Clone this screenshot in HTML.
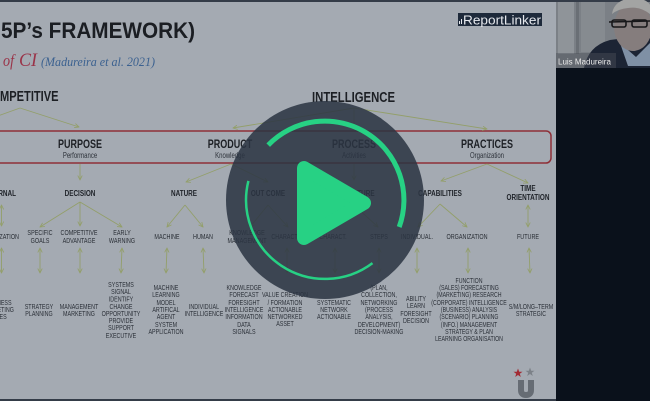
<!DOCTYPE html>
<html><head><meta charset="utf-8">
<style>
html,body{margin:0;padding:0;background:#0a111b;}
svg{display:block;}
.sans{font-family:"Liberation Sans",Arial,sans-serif;}
.s text{font-size:6.9px;text-anchor:middle;fill:#2c3139;font-family:"Liberation Sans",Arial,sans-serif;}
.r3 text{font-size:7px;text-anchor:middle;fill:#2a2f36;font-family:"Liberation Sans",Arial,sans-serif;}
.h2 text{font-size:8.5px;font-weight:bold;text-anchor:middle;fill:#1e2228;font-family:"Liberation Sans",Arial,sans-serif;}
.ln line{stroke:#939f6a;stroke-width:0.9;}
</style></head>
<body>
<svg width="650" height="401" viewBox="0 0 650 401" xmlns="http://www.w3.org/2000/svg">
<defs>
<marker id="a" viewBox="0 0 6 6" refX="5.5" refY="3" markerUnits="userSpaceOnUse" markerWidth="5" markerHeight="5" orient="auto-start-reverse">
<path d="M0,0.3 L5.5,3 L0,5.7" fill="none" stroke="#939f6a" stroke-width="1"/>
</marker>
</defs>
<rect x="0" y="0" width="650" height="401" fill="#0a111b"/>
<!-- slide -->
<rect x="0" y="0" width="556" height="401" fill="#343c48"/>
<rect x="0" y="2" width="556" height="397" fill="#a4aab2"/>

<!-- title -->
<text class="sans" x="1" y="38" font-size="22" font-weight="bold" fill="#1b1e23" textLength="194" lengthAdjust="spacingAndGlyphs">5P’s FRAMEWORK)</text>
<text x="3" y="66" style="font-family:'Liberation Serif','DejaVu Serif',serif;font-style:italic;font-size:17px;" fill="#9a3348" textLength="11" lengthAdjust="spacingAndGlyphs">of</text>
<text x="19" y="66" style="font-family:'Liberation Serif','DejaVu Serif',serif;font-style:italic;font-size:19px;" fill="#9a3348" textLength="18" lengthAdjust="spacingAndGlyphs">CI</text>
<text x="41" y="66" style="font-family:'Liberation Serif','DejaVu Serif',serif;font-style:italic;font-size:12.5px;" fill="#3b6190" textLength="114" lengthAdjust="spacingAndGlyphs">(Madureira et al. 2021)</text>

<!-- ReportLinker -->
<rect x="458" y="13" width="84" height="13" fill="#1e2a3b"/>
<rect x="459" y="21" width="1" height="3" fill="#e6e9ee"/>
<rect x="461" y="19" width="1" height="5" fill="#e6e9ee"/>
<text class="sans" x="463" y="24.5" font-size="12.5" fill="#e6e9ee" textLength="78" lengthAdjust="spacingAndGlyphs">ReportLinker</text>

<!-- top headings -->
<g transform="translate(0,101) scale(0.74,1)"><text class="sans" x="0" y="0" font-size="15" font-weight="bold" fill="#1c1f24">MPETITIVE</text></g>
<g transform="translate(312,102) scale(0.755,1)"><text class="sans" x="0" y="0" font-size="15" font-weight="bold" fill="#1c1f24">INTELLIGENCE</text></g>

<!-- red band -->
<rect x="-20" y="131" width="571" height="32" rx="5" fill="none" stroke="#8e2f37" stroke-width="1.5"/>
<g class="sans" transform="translate(80,0) scale(0.75,1)"><text y="148" font-size="12" font-weight="bold" text-anchor="middle" fill="#1c1f24">PURPOSE</text><text y="158" font-size="8" text-anchor="middle" fill="#2c3139">Performance</text></g>
<g class="sans" transform="translate(230,0) scale(0.75,1)"><text y="148" font-size="12" font-weight="bold" text-anchor="middle" fill="#1c1f24">PRODUCT</text><text y="158" font-size="8" text-anchor="middle" fill="#2c3139">Knowledge</text></g>
<g class="sans" transform="translate(354,0) scale(0.75,1)"><text y="148" font-size="12" font-weight="bold" text-anchor="middle" fill="#1c1f24">PROCESS</text><text y="158" font-size="8" text-anchor="middle" fill="#2c3139">Activities</text></g>
<g class="sans" transform="translate(487,0) scale(0.75,1)"><text y="148" font-size="12" font-weight="bold" text-anchor="middle" fill="#1c1f24">PRACTICES</text><text y="158" font-size="8" text-anchor="middle" fill="#2c3139">Organization</text></g>

<!-- connectors -->
<g class="ln">
<line x1="20" y1="108" x2="79" y2="127" marker-end="url(#a)"/>
<line x1="20" y1="108" x2="-5" y2="117"/>
<line x1="354" y1="108" x2="233" y2="128" marker-end="url(#a)"/>
<line x1="354" y1="108" x2="487" y2="129" marker-end="url(#a)"/>
<line x1="354" y1="108" x2="354" y2="130" marker-end="url(#a)"/>

<line x1="80" y1="164" x2="80" y2="180" marker-end="url(#a)"/>
<line x1="231" y1="164" x2="186" y2="182" marker-end="url(#a)"/>
<line x1="231" y1="164" x2="268" y2="182" marker-end="url(#a)"/>
<line x1="354" y1="164" x2="354" y2="180" marker-end="url(#a)"/>
<line x1="487" y1="164" x2="441" y2="181" marker-end="url(#a)"/>
<line x1="487" y1="164" x2="528" y2="183" marker-end="url(#a)"/>

<line x1="80" y1="202" x2="40" y2="227" marker-end="url(#a)"/>
<line x1="80" y1="202" x2="80" y2="226" marker-end="url(#a)"/>
<line x1="80" y1="202" x2="122" y2="227" marker-end="url(#a)"/>
<line x1="185" y1="205" x2="167" y2="227" marker-end="url(#a)"/>
<line x1="185" y1="205" x2="203" y2="227" marker-end="url(#a)"/>
<line x1="268" y1="205" x2="250" y2="227" marker-end="url(#a)"/>
<line x1="268" y1="205" x2="288" y2="227" marker-end="url(#a)"/>
<line x1="354" y1="205" x2="333" y2="227" marker-end="url(#a)"/>
<line x1="354" y1="205" x2="378" y2="227" marker-end="url(#a)"/>
<line x1="440" y1="204" x2="418" y2="227" marker-end="url(#a)"/>
<line x1="440" y1="204" x2="467" y2="227" marker-end="url(#a)"/>
<line x1="528" y1="205" x2="528" y2="227" marker-start="url(#a)" marker-end="url(#a)"/>
<line x1="1.5" y1="205" x2="1.5" y2="226" marker-start="url(#a)" marker-end="url(#a)"/>

<line x1="1.5" y1="248" x2="1.5" y2="273" marker-start="url(#a)" marker-end="url(#a)"/>
<line x1="40" y1="248" x2="40" y2="273" marker-start="url(#a)" marker-end="url(#a)"/>
<line x1="80" y1="248" x2="80" y2="273" marker-start="url(#a)" marker-end="url(#a)"/>
<line x1="122" y1="248" x2="121" y2="273" marker-start="url(#a)" marker-end="url(#a)"/>
<line x1="167" y1="248" x2="166" y2="273" marker-start="url(#a)" marker-end="url(#a)"/>
<line x1="203" y1="248" x2="204" y2="273" marker-start="url(#a)" marker-end="url(#a)"/>
<line x1="287" y1="248" x2="287" y2="273" marker-start="url(#a)" marker-end="url(#a)"/>
<line x1="335" y1="248" x2="335" y2="273" marker-start="url(#a)" marker-end="url(#a)"/>
<line x1="379" y1="248" x2="379" y2="273" marker-start="url(#a)" marker-end="url(#a)"/>
<line x1="417" y1="248" x2="417" y2="273" marker-start="url(#a)" marker-end="url(#a)"/>
<line x1="468" y1="248" x2="468" y2="273" marker-start="url(#a)" marker-end="url(#a)"/>
<line x1="529" y1="248" x2="530" y2="273" marker-start="url(#a)" marker-end="url(#a)"/>
</g>

<!-- row 2 headings -->
<g class="h2">
<g transform="translate(16,0) scale(0.75,1)"><text y="196" style="text-anchor:end">INTERNAL</text></g>
<g transform="translate(80,0) scale(0.75,1)"><text y="196">DECISION</text></g>
<g transform="translate(184,0) scale(0.75,1)"><text y="196">NATURE</text></g>
<g transform="translate(268,0) scale(0.75,1)"><text y="196">OUT COME</text></g>
<g transform="translate(355,0) scale(0.75,1)"><text y="196">STRUCTURE</text></g>
<g transform="translate(440,0) scale(0.75,1)"><text y="196">CAPABILITIES</text></g>
<g transform="translate(528,0) scale(0.75,1)"><text y="191" font-weight="normal">TIME</text><text y="200">ORIENTATION</text></g>
</g>

<!-- row 3 -->
<g class="r3">
<g transform="translate(19,0) scale(0.78,1)"><text y="239" style="text-anchor:end">ORGANIZATION</text></g>
<g transform="translate(40,0) scale(0.78,1)"><text y="235">SPECIFIC</text><text y="243">GOALS</text></g>
<g transform="translate(79,0) scale(0.78,1)"><text y="235">COMPETITIVE</text><text y="243">ADVANTAGE</text></g>
<g transform="translate(122,0) scale(0.78,1)"><text y="235">EARLY</text><text y="243">WARNING</text></g>
<g transform="translate(167,0) scale(0.78,1)"><text y="239">MACHINE</text></g>
<g transform="translate(203,0) scale(0.78,1)"><text y="239">HUMAN</text></g>
<g transform="translate(247,0) scale(0.78,1)"><text y="235">KNOWLEDGE</text><text y="243">MANAGEMENT</text></g>
<g transform="translate(285,0) scale(0.78,1)"><text y="239">CHARACT.</text></g>
<g transform="translate(333,0) scale(0.78,1)"><text y="239">CHARACT.</text></g>
<g transform="translate(379,0) scale(0.78,1)"><text y="239">STEPS</text></g>
<g transform="translate(417,0) scale(0.78,1)"><text y="239">INDIVIDUAL.</text></g>
<g transform="translate(467,0) scale(0.78,1)"><text y="239">ORGANIZATION</text></g>
<g transform="translate(528,0) scale(0.78,1)"><text y="239">FUTURE</text></g>
</g>

<!-- row 4 -->
<g class="s">
<g transform="translate(-2,0) scale(0.78,1)"><text y="305">BUSINESS</text><text y="312">MARKETING</text><text y="319">SALES</text></g>
<g transform="translate(39,0) scale(0.78,1)"><text y="309">STRATEGY</text><text y="316">PLANNING</text></g>
<g transform="translate(79,0) scale(0.78,1)"><text y="309">MANAGEMENT</text><text y="316">MARKETING</text></g>
<g transform="translate(121,0) scale(0.78,1)"><text y="287">SYSTEMS</text><text y="294">SIGNAL</text><text y="301.5" font-size="7.6">IDENTIFY</text><text y="309">CHANGE</text><text y="316">OPPORTUNITY</text><text y="323">PROVIDE</text><text y="330">SUPPORT</text><text y="338">EXECUTIVE</text></g>
<g transform="translate(166,0) scale(0.78,1)"><text y="290">MACHINE</text><text y="297">LEARNING</text><text y="305" font-size="7.6">MODEL</text><text y="312">ARTIFICAL</text><text y="319">AGENT</text><text y="327" font-size="7.6">SYSTEM</text><text y="334">APPLICATION</text></g>
<g transform="translate(204,0) scale(0.78,1)"><text y="309">INDIVIDUAL</text><text y="316">INTELLIGENCE</text></g>
<g transform="translate(244,0) scale(0.78,1)"><text y="290">KNOWLEDGE</text><text y="297">FORECAST</text><text y="305" font-size="7.6">FORESIGHT</text><text y="312">INTELLIGENCE</text><text y="319">INFORMATION</text><text y="327" font-size="7.6">DATA</text><text y="334">SIGNALS</text></g>
<g transform="translate(285,0) scale(0.78,1)"><text y="297">VALUE CREATION</text><text y="305">/ FORMATION</text><text y="312">ACTIONABLE</text><text y="319">NETWORKED</text><text y="326">ASSET</text></g>
<g transform="translate(334,0) scale(0.78,1)"><text y="305">SYSTEMATIC</text><text y="312">NETWORK</text><text y="319">ACTIONABLE</text></g>
<g transform="translate(379,0) scale(0.78,1)"><text y="290">(PLAN,</text><text y="297">COLLECTION,</text><text y="305" font-size="7.6">NETWORKING</text><text y="312">(PROCESS</text><text y="319">ANALYSIS,</text><text y="327" font-size="7.6">DEVELOPMENT)</text><text y="334">DECISION-MAKING</text></g>
<g transform="translate(416,0) scale(0.78,1)"><text y="301">ABILITY</text><text y="308">LEARN</text><text y="316">FORESIGHT</text><text y="323">DECISION</text></g>
<g transform="translate(469,0) scale(0.76,1)"><text y="283" font-size="7.6">FUNCTION</text><text y="290">(SALES) FORECASTING</text><text y="297">(MARKETING) RESEARCH</text><text y="305" font-size="7.4">(CORPORATE) INTELLIGENCE</text><text y="312">(BUSINESS) ANALYSIS</text><text y="319">(SCENARIO) PLANNING</text><text y="327" font-size="7.4">(INFO.) MANAGEMENT</text><text y="334">STRATEGY &amp; PLAN</text><text y="341">LEARNING ORGANISATION</text></g>
<g transform="translate(531,0) scale(0.78,1)"><text y="309">S/M/LONG–TERM</text><text y="316">STRATEGIC</text></g>
</g>

<!-- U logo -->
<path d="M521,380 L521,390 Q521,395 526,395 Q531,395 531,390 L531,380" fill="none" stroke="#666c74" stroke-width="6"/>
<polygon points="518,368.5 519.2,371.8 522.5,371.8 519.8,373.8 520.8,377 518,375 515.2,377 516.2,373.8 513.5,371.8 516.8,371.8" fill="#a22a33"/>
<polygon points="530,367.5 531.2,370.8 534.5,370.8 531.8,372.8 532.8,376 530,374 527.2,376 528.2,372.8 525.5,370.8 528.8,370.8" fill="#7c8188"/>

<!-- webcam -->
<rect x="556" y="0" width="94" height="68" fill="#7b8086"/>
<rect x="556" y="0" width="94" height="2" fill="#343c48"/>
<rect x="558" y="2" width="16" height="52" fill="#8f9499"/>
<rect x="576" y="2" width="3" height="52" fill="#6a6f75"/>
<rect x="581" y="2" width="24" height="50" fill="#868b90"/>
<path d="M584,68 Q588,46 610,40 L650,35 L650,68 Z" fill="#1c2434"/>
<path d="M620,43 L636,57 L650,43 L650,66 L628,66 Z" fill="#7f90a5"/>
<ellipse cx="633" cy="27" rx="19" ry="24" fill="#857d7d"/>
<path d="M612,14 Q614,0 632,-2 Q650,-2 652,10 L650,14 Q640,6 628,8 Q618,9 612,14 Z" fill="#a3a4a3"/>
<path d="M609,22 L650,21" stroke="#18181a" stroke-width="1.6"/>
<rect x="612" y="20" width="14" height="7" rx="2" fill="none" stroke="#18181a" stroke-width="1.6"/>
<rect x="632" y="20" width="15" height="7" rx="2" fill="none" stroke="#18181a" stroke-width="1.6"/>
<rect x="556" y="53" width="60" height="15" fill="#4b5058" fill-opacity="0.45"/>
<text class="sans" x="558" y="64.5" font-size="8" fill="#ececec">Luis Madureira</text>

<!-- play overlay -->
<circle cx="325" cy="200" r="99" fill="#2b3442" fill-opacity="0.86"/>
<path d="M268.2,145.1 A79,79 0 0 1 399.2,227.0" fill="none" stroke="#27d184" stroke-width="5"/>
<path d="M372.5,263.1 A79,79 0 0 1 248.4,180.9" fill="none" stroke="#27d184" stroke-width="2.5"/>
<polygon points="304,168 304,238 364,203" fill="#27d184" stroke="#27d184" stroke-width="14" stroke-linejoin="round"/>
</svg>
</body></html>
